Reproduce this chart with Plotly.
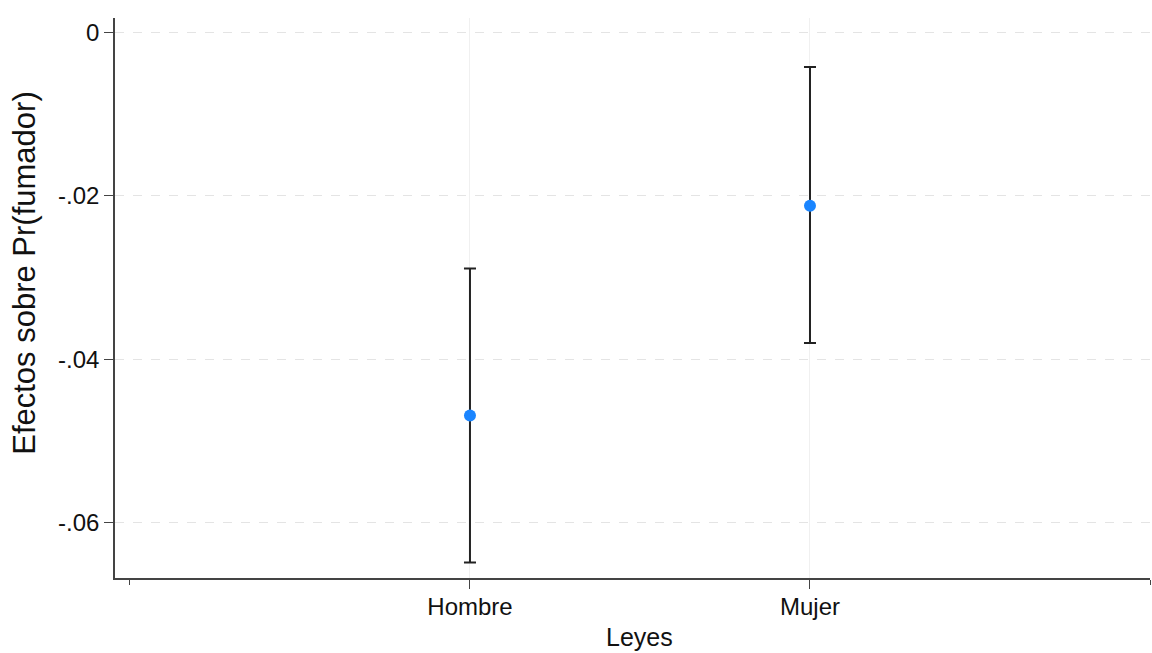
import plotly.graph_objects as go

categories = ["Hombre", "Mujer"]
cat_pos = [1, 2]
estimates = [-0.0469, -0.0212]
ci_low = [-0.0649, -0.0380]
ci_high = [-0.0289, -0.0042]

y_tickvals = [0, -0.02, -0.04, -0.06]
y_ticktext = ["0", "-.02", "-.04", "-.06"]

err_plus = [h - e for h, e in zip(ci_high, estimates)]
err_minus = [e - l for e, l in zip(estimates, ci_low)]

fig = go.Figure()
fig.add_trace(go.Scatter(
    x=cat_pos, y=estimates, mode="markers",
    marker=dict(color="#1a85ff", size=12),
    error_y=dict(type="data", symmetric=False, array=err_plus, arrayminus=err_minus,
                 color="#222222", thickness=2, width=6),
    showlegend=False,
))

fig.update_layout(
    width=1152, height=653,
    margin=dict(l=115, r=2, t=18, b=75),
    paper_bgcolor="white", plot_bgcolor="white",
    font=dict(family="Liberation Sans, Arial, sans-serif", size=24, color="#111111"),
)
fig.update_xaxes(
    range=[-0.044, 3.0],
    tickvals=cat_pos, ticktext=categories,
    showline=True, linecolor="#444444", linewidth=1.5,
    ticks="outside", ticklen=9, tickcolor="#444444", tickwidth=1,
    ticklabelstandoff=-3,
    showgrid=True, gridcolor="#f0f0f0", gridwidth=1,
    zeroline=False,
    minor=dict(tickvals=[0, 3], ticks="outside", ticklen=5, tickcolor="#444444", showgrid=False),
)
fig.update_yaxes(
    range=[-0.0668, 0.0018],
    tickvals=y_tickvals, ticktext=y_ticktext,
    showline=True, linecolor="#444444", linewidth=1.5,
    ticks="outside", ticklen=9, tickcolor="#444444", tickwidth=1,
    showgrid=True, gridcolor="#e4e4e4", gridwidth=1, griddash="dash",
    zeroline=False,
)
fig.add_annotation(
    text="Leyes", xref="paper", yref="paper", x=0.507, y=0,
    yshift=-59, xanchor="center", yanchor="middle", showarrow=False,
    font=dict(size=25),
)
fig.add_annotation(
    text="Efectos sobre Pr(fumador)", xref="paper", yref="paper", x=0, y=0.545,
    xshift=-90, xanchor="center", yanchor="middle", textangle=-90, showarrow=False,
    font=dict(size=31),
)

fig.write_html("out.html")
